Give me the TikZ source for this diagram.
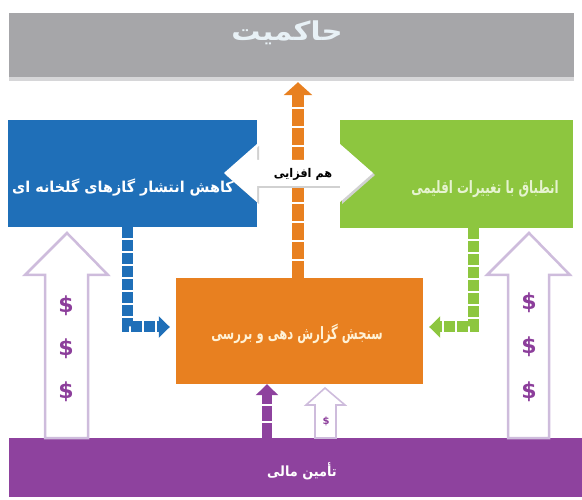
\documentclass[tikz,border=0pt]{standalone}
\usepackage{fontspec}
\newfontfamily\arabicfont[Script=Arabic]{DejaVu Sans}
\newfontfamily\dejavu{DejaVu Sans}
\TeXXeTstate=1
\usetikzlibrary{arrows.meta}
\definecolor{cgray}{RGB}{166,166,169}
\definecolor{cgraylt}{RGB}{214,214,216}
\definecolor{cblue}{RGB}{31,111,184}
\definecolor{cgreen}{RGB}{141,198,63}
\definecolor{corange}{RGB}{232,128,32}
\definecolor{cpurple}{RGB}{142,66,158}
\definecolor{cpurplelt}{RGB}{206,188,220}
\definecolor{cdollar}{RGB}{140,62,155}
\definecolor{ctxtgray}{RGB}{232,241,246}
\definecolor{ctxtgreen}{RGB}{230,243,208}
\definecolor{ctxtorange}{RGB}{255,242,214}
\begin{document}
\begin{tikzpicture}[x=1pt,y=-1pt,
  box/.style={rectangle,draw=none,inner sep=0pt},
  lbl/.style={inner sep=0pt},
  dollar/.style={inner sep=0pt,text=cdollar,font=\dejavu\bfseries\fontsize{22}{24}\selectfont},
  hollow/.style={draw=cpurplelt,line width=2.5pt,fill=white,line join=miter},
  dashconn/.style={line width=11pt,dash pattern=on 11pt off 2pt},
]
\useasboundingbox (0,0) rectangle (582,500);
% boxes
\fill[cgraylt] (9,76) rectangle (574,81);
\node[box,fill=cgray,minimum width=565pt,minimum height=64pt] (gov) at (291.5,45) {};
\node[box,fill=cblue,minimum width=249pt,minimum height=107pt] (mit) at (132.5,173.5) {};
\node[box,fill=cgreen,minimum width=233pt,minimum height=108pt] (ada) at (456.5,174) {};
\node[box,fill=corange,minimum width=247pt,minimum height=106pt] (mrv) at (299.5,331) {};
\node[box,fill=cpurple,minimum width=573pt,minimum height=59pt] (fin) at (295.5,467.5) {};
% orange vertical dashed arrow up to governance
\draw[corange,line width=12pt,dash pattern=on 17pt off 2pt,
  -{Triangle[length=13pt,width=28pt]}] (mrv.north -| 298,0) -- ([yshift=-5pt]gov.south -| 298,0);
% double arrow synergy
\fill[black!18] (226,175) -- (259,146) -- (259,162) -- (342,162) -- (342,146) -- (375,175)
  -- (342,204) -- (342,188) -- (259,188) -- (259,204) -- cycle;
\fill[white] (224,173) -- (257,144) -- (257,160) -- (340,160) -- (340,144) -- (373,173)
  -- (340,202) -- (340,186) -- (257,186) -- (257,202) -- cycle;
% texts
\node[lbl,text=ctxtgray] (tgov) at (287,33) {\scalebox{1.12}[1]{\arabicfont\bfseries\fontsize{26}{30}\selectfont\beginR حاکمیت\endR}};
\node[lbl,text=white] (tmit) at (123,188) {\scalebox{0.96}[1]{\arabicfont\bfseries\fontsize{15}{18}\selectfont\beginR کاهش انتشار گازهای گلخانه ای\endR}};
\node[lbl,text=ctxtgreen] (tada) at (485,189) {\scalebox{0.70}[1]{\arabicfont\bfseries\fontsize{17}{20}\selectfont\beginR انطباق با تغییرات اقلیمی\endR}};
\node[lbl,text=ctxtorange] (tmrv) at (297,334) {\scalebox{0.68}[1]{\arabicfont\bfseries\fontsize{17}{20}\selectfont\beginR سنجش گزارش دهی و بررسی\endR}};
\node[lbl,text=white] (tfin) at (302,471) {\scalebox{0.92}[1]{\arabicfont\bfseries\fontsize{14}{17}\selectfont\beginR تأمین مالی\endR}};
\node[lbl,text=black] (tsyn) at (303,174) {\scalebox{0.94}[1]{\arabicfont\bfseries\fontsize{12}{14}\selectfont\beginR هم افزایی\endR}};
% blue and green dashed connectors
\coordinate (bc) at (127,327);
\coordinate (gc) at (473,327);
\draw[cblue,dashconn,-{Triangle[length=11pt,width=21pt]},shorten >=6pt]
  (bc |- mit.south) -- (bc) -- (bc -| mrv.west);
\draw[cgreen,dashconn,-{Triangle[length=11pt,width=21pt]},shorten >=6pt]
  (gc |- ada.south) -- (gc) -- (gc -| mrv.east);
% big hollow arrows
\draw[hollow] (67,233) -- (108,275) -- (88,275) -- (88,438) -- (45,438) -- (45,275) -- (25,275) -- cycle;
\draw[hollow] (529,233) -- (570,275) -- (549,275) -- (549,438) -- (508,438) -- (508,275) -- (487,275) -- cycle;
\node[dollar] (dl1) at (66,306) {\$};
\node[dollar] (dl2) at (66,349) {\$};
\node[dollar] (dl3) at (66,392) {\$};
\node[dollar] (dr1) at (529,303) {\$};
\node[dollar] (dr2) at (529,347) {\$};
\node[dollar] (dr3) at (529,392) {\$};
% small arrows at bottom
\coordinate (pc) at (267,0);
\draw[cpurple,line width=10pt,dash pattern=on 15pt off 2pt,
  -{Triangle[length=11pt,width=22pt]}] (pc |- fin.north) -- (pc |- mrv.south);
\draw[draw=cpurplelt,line width=1.6pt,fill=white] (325,388) -- (345,405) -- (336,405) -- (336,438) -- (315,438) -- (315,405) -- (306,405) -- cycle;
\node[dollar,font=\dejavu\bfseries\fontsize{10}{12}\selectfont] (ds) at (326,421) {\$};
\end{tikzpicture}
\end{document}
